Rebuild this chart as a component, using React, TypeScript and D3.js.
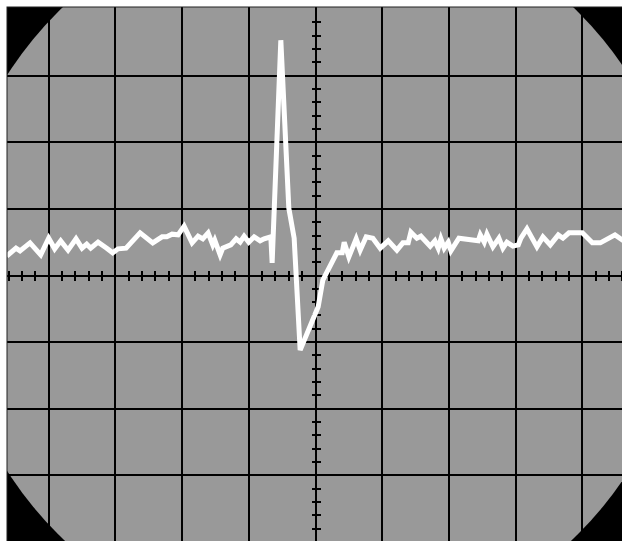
import React, { useEffect, useRef } from 'react';
import * as d3 from 'd3';

// trace samples: time (divisions from center) and level (divisions)
const times = [
  -4.63, -4.49, -4.43, -4.28, -4.12, -4.0, -3.91, -3.82, -3.71, -3.59, -3.5, -3.43, -3.37, -3.26,
  -3.13, -3.04, -2.96, -2.84, -2.63, -2.44, -2.3, -2.23, -2.15, -2.06, -1.97, -1.85, -1.76, -1.69,
  -1.61, -1.54, -1.51, -1.43, -1.39, -1.27, -1.19, -1.13, -1.07, -1.0, -0.92, -0.83, -0.77, -0.67,
  -0.65, -0.52, -0.4, -0.32, -0.23, 0.04, 0.11, 0.32, 0.4, 0.43, 0.5, 0.61, 0.67, 0.76, 0.86, 0.97,
  1.09, 1.22, 1.31, 1.39, 1.43, 1.46, 1.52, 1.58, 1.72, 1.79, 1.84, 1.88, 1.93, 1.99, 2.03, 2.15,
  2.44, 2.47, 2.53, 2.57, 2.66, 2.75, 2.81, 2.87, 2.96, 3.04, 3.08, 3.17, 3.32, 3.41, 3.52, 3.64,
  3.71, 3.8, 4.0, 4.15, 4.27, 4.49, 4.65,
];
const levels = [
  0.29, 0.41, 0.37, 0.49, 0.31, 0.56, 0.4, 0.52, 0.38, 0.55, 0.41, 0.47, 0.41, 0.5,
  0.41, 0.34, 0.4, 0.41, 0.64, 0.49, 0.58, 0.58, 0.62, 0.61, 0.74, 0.49, 0.59, 0.55,
  0.64, 0.46, 0.53, 0.31, 0.41, 0.46, 0.55, 0.5, 0.59, 0.5, 0.58, 0.52, 0.55, 0.58,
  0.19, 3.53, 1.01, 0.56, -1.12, -0.47, -0.07, 0.34, 0.34, 0.5, 0.28, 0.55, 0.38, 0.58, 0.56, 0.41,
  0.52, 0.38, 0.49, 0.49, 0.65, 0.62, 0.56, 0.59, 0.44, 0.52, 0.41, 0.55, 0.41, 0.5, 0.37, 0.56,
  0.52, 0.61, 0.5, 0.62, 0.43, 0.56, 0.41, 0.5, 0.44, 0.46, 0.56, 0.7, 0.43, 0.58, 0.46, 0.61,
  0.56, 0.64, 0.64, 0.49, 0.49, 0.61, 0.5,
];
const majorX = [-4, -3, -2, -1, 0, 1, 2, 3, 4];
const majorY = [-3, -2, -1, 0, 1, 2, 3];

export default function App() {
  const ref = useRef(null);
  const width = 622,
    height = 541;
  const cx = 315.5,
    cy = 275.5,
    divX = 66.7,
    divY = 66.65;

  useEffect(() => {
    const x = d3.scaleLinear().domain([-5, 5]).range([cx - 5 * divX, cx + 5 * divX]);
    const y = d3.scaleLinear().domain([-4, 4]).range([cy + 4 * divY, cy - 4 * divY]);

    const svg = d3.select(ref.current);
    svg.selectAll('*').remove();

    const defs = svg.append('defs');
    defs
      .append('clipPath')
      .attr('id', 'screen')
      .append('rect')
      .attr('x', 7)
      .attr('y', 7)
      .attr('width', 700)
      .attr('height', 600);

    const screen = svg.append('g').attr('clip-path', 'url(#screen)');
    // tube face: black rectangle, grey round face
    screen.append('rect').attr('x', 7).attr('y', 7).attr('width', 700).attr('height', 600).attr('fill', '#000');
    screen.append('circle').attr('cx', 318).attr('cy', 273).attr('r', 368.5).attr('fill', '#999999');

    const grid = screen.append('g').attr('stroke', '#000').attr('stroke-width', 2).attr('shape-rendering', 'crispEdges');
    grid
      .selectAll('.vx')
      .data(majorX)
      .join('line')
      .attr('x1', (d) => Math.round(x(d)))
      .attr('x2', (d) => Math.round(x(d)))
      .attr('y1', 0)
      .attr('y2', height);
    grid
      .selectAll('.hy')
      .data(majorY)
      .join('line')
      .attr('y1', (d) => Math.round(y(d)))
      .attr('y2', (d) => Math.round(y(d)))
      .attr('x1', 0)
      .attr('x2', width);

    // minor ticks on the centre axes
    const minorX = d3.range(-23, 24).filter((i) => i % 5 !== 0).map((i) => i / 5);
    const minorY = d3.range(-20, 21).filter((i) => i % 5 !== 0).map((i) => i / 5);
    grid
      .selectAll('.tx')
      .data(minorX)
      .join('line')
      .attr('x1', (d) => Math.round(x(d)))
      .attr('x2', (d) => Math.round(x(d)))
      .attr('y1', Math.round(y(0)) - 5)
      .attr('y2', Math.round(y(0)) + 5);
    grid
      .selectAll('.ty')
      .data(minorY)
      .join('line')
      .attr('y1', (d) => Math.round(y(d)))
      .attr('y2', (d) => Math.round(y(d)))
      .attr('x1', Math.round(x(0)) - 4)
      .attr('x2', Math.round(x(0)) + 5);

    const line = d3
      .line()
      .x((d) => x(d[0]))
      .y((d) => y(d[1]));
    const pts = times.map((t, i) => [t, levels[i]]);
    screen
      .append('path')
      .datum(pts)
      .attr('fill', 'none')
      .attr('stroke', '#fff')
      .attr('stroke-width', 5)
      .attr('d', line);

    svg
      .append('rect')
      .attr('x', 7)
      .attr('y', 7)
      .attr('width', 700)
      .attr('height', 600)
      .attr('fill', 'none')
      .attr('stroke', '#222')
      .attr('stroke-width', 1);
  }, []);

  return (
    <svg
      ref={ref}
      width={width}
      height={height}
      style={{ position: 'absolute', left: 0, top: 0 }}
    />
  );
}
